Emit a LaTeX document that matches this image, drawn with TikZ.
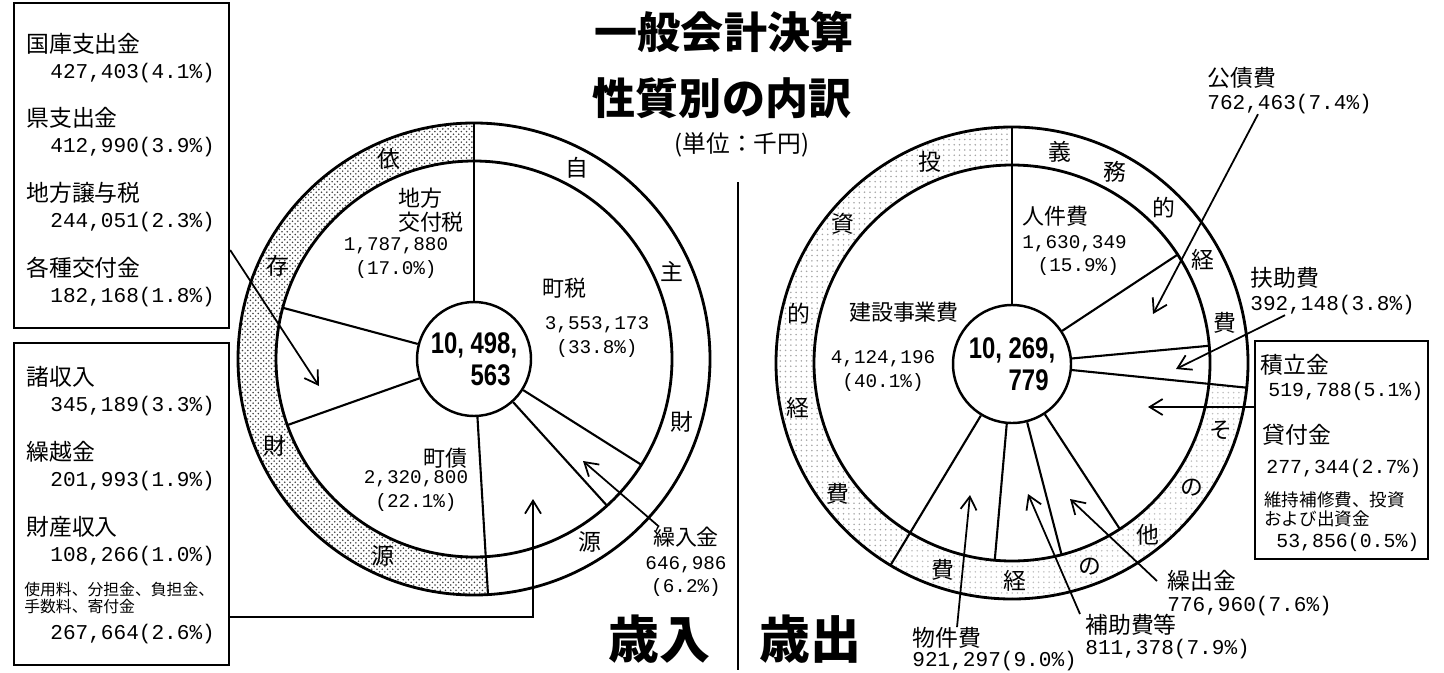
\documentclass[tikz,border=0pt]{standalone}
\usepackage{fontspec}
\setmainfont{Noto Sans CJK JP}
\newfontfamily\numfont{Liberation Mono}
\newfontfamily\ctrfont{Liberation Sans}[FakeStretch=0.8]
\usetikzlibrary{arrows.meta,patterns}
\newcommand{\nm}[1]{{\numfont\fontsize{11}{13.5}\selectfont #1}}

\begin{document}
\begin{tikzpicture}
	% revenue and expenditure rings, split by kind
	[x=0.2mm,y=-0.2mm,
	 jp/.style={font=\fontsize{13}{15}\selectfont,inner sep=0pt},
	 small/.style={font=\fontsize{9}{10}\selectfont,inner sep=0pt},
	 num/.style={font=\numfont\fontsize{12}{14}\selectfont,inner sep=0pt},
	 nums/.style={font=\numfont\fontsize{11.3}{13}\selectfont,inner sep=0pt},
	 blk/.style={font=\fontsize{12.5}{13.5}\selectfont,inner sep=0pt,align=center},
	 ring/.style={font=\fontsize{13}{13}\selectfont,inner sep=0pt},
	 total/.style={circle,draw,line width=1.4pt,inner sep=0pt,align=right,
		font=\ctrfont\bfseries\fontsize{17}{18}\selectfont},
	 box/.style={draw,line width=1.3pt,inner sep=0pt},
	 rim/.style={line width=1.6pt},
	 cut/.style={line width=1.2pt},
	 arr/.style={line width=1pt,-{Straight Barb[length=2.6mm,width=3.2mm]}},
	 big/.style={font=\bfseries\fontsize{24.5}{26}\selectfont,inner sep=0pt},
	 side/.style={font=\bfseries\fontsize{29}{30}\selectfont,inner sep=0pt}]
	\useasboundingbox (0,0) rectangle (1444,672);

	\coordinate (cL) at (474,359);
	\coordinate (cR) at (1012,363);

	% dotted parts of the rings
	\fill[pattern=crosshatch dots,pattern color=black!75]
		([shift={(-90:236)}]cL) arc[start angle=-90,end angle=-273.4,radius=236]
		-- ([shift={(-273.4:198)}]cL) arc[start angle=-273.4,end angle=-90,radius=198] -- cycle;
	\fill[pattern=dots,pattern color=black!35]
		([shift={(-90:236)}]cR) arc[start angle=-90,end angle=-239,radius=236]
		-- ([shift={(-239:198)}]cR) arc[start angle=-239,end angle=-90,radius=198] -- cycle;
	\fill[pattern=dots,pattern color=black!25]
		([shift={(6:236)}]cR) arc[start angle=6,end angle=121,radius=236]
		-- ([shift={(121:198)}]cR) arc[start angle=121,end angle=6,radius=198] -- cycle;

	% titles
	\node[big] (title1) at (724,32) {一般会計決算};
	\node[big] (title2) at (722,98) {性質別の内訳};
	\node[jp,font=\fontsize{13.5}{14}\selectfont] (unit) at (742,145) {(単位：千円)};
	\draw[cut] (738,182) -- (738,670);
	\node[side] (sainyu) at (659,639) {歳入};
	\node[side] (saishutsu) at (810,639) {歳出};

	% revenue
	\node[total,minimum size=22.8mm] (totL) at (474,359) {10, 498,\\563\hphantom{,}};
	\draw[rim] (cL) circle (236);
	\draw[rim] (cL) circle (198);
	\draw[cut] (totL) -- ([shift={(-90:236)}]cL);
	\draw[cut] (totL) -- ([shift={(32.3:198)}]cL);
	\draw[cut] (totL) -- ([shift={(47.8:198)}]cL);
	\draw[cut] (totL) -- ([shift={(86.6:236)}]cL);
	\draw[cut] (totL) -- ([shift={(160.5:198)}]cL);
	\draw[cut] (totL) -- ([shift={(195:198)}]cL);

	\node[ring] (rl1) at ([shift={(-61.7:217)}]cL) {自};
	\node[ring] (rl2) at ([shift={(-23.9:217)}]cL) {主};
	\node[ring] (rl3) at ([shift={(16.8:217)}]cL) {財};
	\node[ring] (rl4) at ([shift={(57.6:217)}]cL) {源};
	\node[ring] (rl5) at ([shift={(-113:217)}]cL) {依};
	\node[ring] (rl6) at ([shift={(-154.7:217)}]cL) {存};
	\node[ring] (rl7) at ([shift={(-203.6:217)}]cL) {財};
	\node[ring] (rl8) at ([shift={(-245.3:217)}]cL) {源};

	\node[blk] (chiho) at (431,210) {地方\hspace*{1em}\\交付税};
	\node[blk] (chihoN) at (396,258) {\nm{1,787,880}\\\nm{(17.0\%)}};
	\node[blk] (chozei) at (564,288) {町税};
	\node[blk] (chozeiN) at (597,337) {\nm{3,553,173}\\\nm{(33.8\%)}};
	\node[blk] (chosai) at (445,458) {町債};
	\node[blk] (chosaiN) at (416,491) {\nm{2,320,800}\\\nm{(22.1\%)}};
	\node[blk] (kuri) at (686,562) {繰入金\\\nm{646,986}\\\nm{(6.2\%)}};

	% revenue boxes
	\node[box,minimum width=43mm,minimum height=65mm] (boxA) at (121.5,165.5) {};
	\node[jp,anchor=west] (kokko) at (26,44) {国庫支出金};
	\node[num,anchor=west] (kokkoN) at (50,73) {427,403(4.1\%)};
	\node[jp,anchor=west] (ken) at (26,118) {県支出金};
	\node[num,anchor=west] (kenN) at (50,147) {412,990(3.9\%)};
	\node[jp,anchor=west] (joyo) at (26,193) {地方譲与税};
	\node[num,anchor=west] (joyoN) at (50,222) {244,051(2.3\%)};
	\node[jp,anchor=west] (kakushu) at (26,268) {各種交付金};
	\node[num,anchor=west] (kakushuN) at (50,297) {182,168(1.8\%)};

	\node[box,minimum width=43mm,minimum height=64.4mm] (boxB) at (121.5,504) {};
	\node[jp,anchor=west] (sho) at (26,377) {諸収入};
	\node[num,anchor=west] (shoN) at (50,406) {345,189(3.3\%)};
	\node[jp,anchor=west] (kurikoshi) at (26,452) {繰越金};
	\node[num,anchor=west] (kurikoshiN) at (50,481) {201,993(1.9\%)};
	\node[jp,anchor=west] (zaisan) at (26,527) {財産収入};
	\node[num,anchor=west] (zaisanN) at (50,556) {108,266(1.0\%)};
	\node[small,anchor=west] (shiyo) at (24,590) {使用料、分担金、負担金、};
	\node[small,anchor=west] (tesu) at (24,606) {手数料、寄付金};
	\node[num,anchor=west] (shiyoN) at (50,634) {267,664(2.6\%)};

	\coordinate (aimA) at (319,386);
	\coordinate (aimB) at (533,499);
	\coordinate (aimK) at (583,461);
	\draw[arr] ([yshift=-16.9mm]boxA.east) -- (aimA);
	\draw[arr] ([yshift=-22.6mm]boxB.east) -| (aimB);
	\draw[arr] ([xshift=2.8mm]kuri.north west) -- (aimK);

	% expenditure
	\node[total,minimum size=23.6mm] (totR) at (1012,364) {10, 269,\\779\hphantom{,}};
	\draw[rim] (cR) circle (236);
	\draw[rim] (cR) circle (198);
	\draw[cut] (totR) -- ([shift={(-90:236)}]cR);
	\draw[cut] (totR) -- ([shift={(-33.2:198)}]cR);
	\draw[cut] (totR) -- ([shift={(-5:198)}]cR);
	\draw[cut] (totR) -- ([shift={(6:236)}]cR);
	\draw[cut] (totR) -- ([shift={(121:236)}]cR);
	\draw[cut] (totR) -- ([shift={(95:198)}]cR);
	\draw[cut] (totR) -- ([shift={(75.5:198)}]cR);
	\draw[cut] (totR) -- ([shift={(57:198)}]cR);

	\node[ring] (rr1) at ([shift={(-77.2:217)}]cR) {義};
	\node[ring] (rr2) at ([shift={(-61.8:217)}]cR) {務};
	\node[ring] (rr3) at ([shift={(-45.6:217)}]cR) {的};
	\node[ring] (rr4) at ([shift={(-28.3:217)}]cR) {経};
	\node[ring] (rr5) at ([shift={(-10.6:217)}]cR) {費};
	\node[ring] (rr6) at ([shift={(17.8:219)}]cR) {そ};
	\node[ring] (rr7) at ([shift={(34.8:219)}]cR) {の};
	\node[ring] (rr8) at ([shift={(51.7:219)}]cR) {他};
	\node[ring] (rr9) at ([shift={(69:218)}]cR) {の};
	\node[ring] (rr10) at ([shift={(89.2:218)}]cR) {経};
	\node[ring] (rr11) at ([shift={(108.6:218)}]cR) {費};
	\node[ring] (rr12) at ([shift={(-112.3:217)}]cR) {投};
	\node[ring] (rr13) at ([shift={(-140.5:219)}]cR) {資};
	\node[ring] (rr14) at ([shift={(-167:219)}]cR) {的};
	\node[ring] (rr15) at ([shift={(-191.7:219)}]cR) {経};
	\node[ring] (rr16) at ([shift={(-217:218)}]cR) {費};

	\node[blk,align=left,anchor=west] (jinken) at (1022,241) {人件費\\\nm{1,630,349}\\\hspace*{0.7em}\nm{(15.9\%)}};
	\node[blk] (kensetsu) at (904,312) {建設事業費};
	\node[blk] (kensetsuN) at (883,371) {\nm{4,124,196}\\\nm{(40.1\%)}};

	% expenditure labels
	\node[jp,anchor=west] (kosai) at (1207,78) {公債費};
	\node[num,anchor=west] (kosaiN) at (1207,104) {762,463(7.4\%)};
	\node[jp,anchor=west] (fujo) at (1250,278) {扶助費};
	\node[num,anchor=west] (fujoN) at (1250,305) {392,148(3.8\%)};

	\node[box,minimum width=34.6mm,minimum height=43.6mm] (boxC) at (1341.5,450) {};
	\node[jp,anchor=west] (tsumitate) at (1260,365) {積立金};
	\node[nums,anchor=west] (tsumitateN) at (1268,391) {519,788(5.1\%)};
	\node[jp,anchor=west] (kashitsuke) at (1262,435) {貸付金};
	\node[nums,anchor=west] (kashitsukeN) at (1266,468) {277,344(2.7\%)};
	\node[small,font=\fontsize{10}{11}\selectfont,anchor=west] (iji) at (1264,500) {維持補修費、投資};
	\node[small,font=\fontsize{10}{11}\selectfont,anchor=west] (shusshi) at (1264,519) {および出資金};
	\node[nums,anchor=west] (ijiN) at (1276,542) {53,856(0.5\%)};

	\node[jp,anchor=west] (kuride) at (1167,581) {繰出金};
	\node[num,anchor=west] (kurideN) at (1167,606) {776,960(7.6\%)};
	\node[jp,anchor=west] (hojo) at (1085,625) {補助費等};
	\node[num,anchor=west] (hojoN) at (1085,649) {811,378(7.9\%)};
	\node[jp,anchor=west] (bukken) at (912,638) {物件費};
	\node[num,anchor=west] (bukkenN) at (912,661) {921,297(9.0\%)};

	\coordinate (aimKo) at (1153,314);
	\coordinate (aimF) at (1176,369);
	\coordinate (aimC) at (1148,407);
	\coordinate (aimKd) at (1070,499);
	\coordinate (aimH) at (1028,494);
	\coordinate (aimBu) at (970,495);
	\draw[arr] ([xshift=10.2mm]kosaiN.south west) -- (aimKo);
	\draw[arr] ([xshift=7mm]fujoN.south west) -- (aimF);
	\draw[arr] ([yshift=8.6mm]boxC.west) -- (aimC);
	\draw[arr] ([xshift=-2mm]kuride.west) -- (aimKd);
	\draw[arr] ([xshift=-1mm]hojo.north west) -- (aimH);
	\draw[arr] ([xshift=9mm]bukken.north west) -- (aimBu);
\end{tikzpicture}
\end{document}
